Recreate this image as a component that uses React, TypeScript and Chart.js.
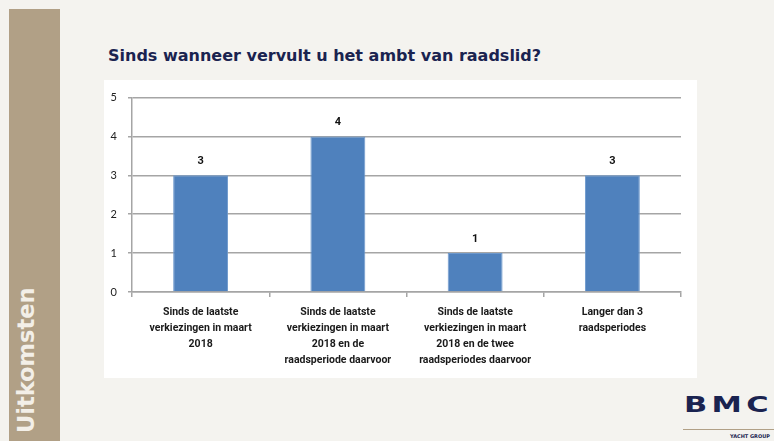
import React, { useEffect, useRef } from "react";
import { Chart, registerables } from "chart.js";

Chart.register(...registerables);

const categories: string[][] = [
  ["Sinds de laatste", "verkiezingen in maart", "2018"],
  ["Sinds de laatste", "verkiezingen in maart", "2018 en de", "raadsperiode daarvoor"],
  ["Sinds de laatste", "verkiezingen in maart", "2018 en de twee", "raadsperiodes daarvoor"],
  ["Langer dan 3", "raadsperiodes"],
];
const values: number[] = [3, 4, 1, 3];
const yTicks: number[] = [0, 1, 2, 3, 4, 5];

const titleText = "Sinds wanneer vervult u het ambt van raadslid?";
const sideText = "Uitkomsten";

const GRID = "#a5a5a5";
const TICK_FONT = "Lato, 'Liberation Sans', sans-serif";
const LABEL_FONT = "Roboto, 'Liberation Sans', sans-serif";

const valueLabels = {
  id: "valueLabels",
  afterDatasetsDraw(chart: any) {
    const ctx = chart.ctx;
    const meta = chart.getDatasetMeta(0);
    ctx.save();
    ctx.font = `bold 11px ${LABEL_FONT}`;
    ctx.fillStyle = "#111";
    ctx.textAlign = "center";
    ctx.textBaseline = "middle";
    meta.data.forEach((el: any, i: number) => {
      ctx.fillText(String(chart.data.datasets[0].data[i]), el.x, el.y - 14);
    });
    ctx.restore();
  },
};

export default function App() {
  const ref = useRef<HTMLCanvasElement>(null);
  useEffect(() => {
    if (!ref.current) return;
    const chart = new Chart(ref.current, {
      type: "bar",
      data: {
        labels: categories,
        datasets: [
          {
            data: values,
            backgroundColor: "#4f81bd",
            borderColor: "#6d98cc",
            borderWidth: 1,
            barPercentage: 0.4,
            categoryPercentage: 1,
          },
        ],
      },
      options: {
        responsive: false,
        animation: false,
        layout: { padding: { top: 16, right: 16, left: 0, bottom: 0 } },
        plugins: {
          legend: { display: false },
          tooltip: { enabled: false },
          title: { display: false },
        },
        scales: {
          x: {
            afterFit: (s: any) => {
              s.height = 86;
            },
            grid: {
              offset: true,
              drawOnChartArea: false,
              drawTicks: true,
              tickLength: 5,
              color: GRID,
              lineWidth: 1.5,
            },
            border: { color: GRID, width: 1.5 },
            ticks: {
              autoSkip: false,
              maxRotation: 0,
              minRotation: 0,
              padding: 7,
              color: "#1a1a1a",
              font: { family: LABEL_FONT, size: 10.5, weight: "bold", lineHeight: 16 / 10.5 },
            },
          },
          y: {
            min: 0,
            max: 5,
            afterFit: (s: any) => {
              s.width = 28;
            },
            afterBuildTicks: (s: any) => {
              s.ticks = yTicks.map((v) => ({ value: v }));
            },
            grid: {
              color: GRID,
              lineWidth: 1.5,
              drawTicks: true,
              tickLength: 4,
            },
            border: { color: GRID, width: 1.5 },
            ticks: {
              padding: 11,
              color: "#222",
              font: { family: TICK_FONT, size: 11 },
            },
          },
        },
      },
      plugins: [valueLabels],
    });
    return () => chart.destroy();
  }, []);

  return (
    <div
      style={{
        position: "fixed",
        left: 0,
        top: 0,
        width: 774,
        height: 441,
        background: "#f4f3ef",
        overflow: "hidden",
      }}
    >
      <div
        style={{
          position: "absolute",
          left: 9,
          top: 9,
          width: 51,
          height: 432,
          background: "#b1a086",
        }}
      />
      <div
        style={{
          position: "absolute",
          left: 12,
          top: 433,
          transform: "rotate(-90deg)",
          transformOrigin: "0 0",
          whiteSpace: "nowrap",
          color: "#f3efe8",
          fontFamily: "'DejaVu Sans', Verdana, sans-serif",
          fontWeight: "bold",
          fontSize: 22.5,
          lineHeight: "28px",
        }}
      >
        {sideText}
      </div>
      <div
        style={{
          position: "absolute",
          left: 108,
          top: 46,
          whiteSpace: "nowrap",
          color: "#1a2350",
          fontFamily: "'DejaVu Sans', Verdana, sans-serif",
          fontWeight: "bold",
          fontSize: 16,
          lineHeight: "20px",
        }}
      >
        {titleText}
      </div>
      <div
        style={{
          position: "absolute",
          left: 104,
          top: 80,
          width: 593,
          height: 298,
          background: "#ffffff",
        }}
      >
        <canvas ref={ref} width={593} height={298} style={{ display: "block" }} />
      </div>
      <div
        style={{
          position: "absolute",
          left: 684,
          top: 393,
          whiteSpace: "nowrap",
          color: "#1a2350",
          fontFamily: "'DejaVu Sans', Verdana, sans-serif",
          fontWeight: "bold",
          fontSize: 21,
          lineHeight: "24px",
          letterSpacing: 3,
          transform: "scaleX(1.45)",
          transformOrigin: "0 0",
        }}
      >
        BMC
      </div>
      <div
        style={{
          position: "absolute",
          left: 683,
          top: 429,
          width: 91,
          height: 1,
          background: "#b1a086",
        }}
      />
      <div
        style={{
          position: "absolute",
          left: 730,
          top: 433,
          whiteSpace: "nowrap",
          color: "#1a2350",
          fontFamily: "'DejaVu Sans', Verdana, sans-serif",
          fontWeight: "bold",
          fontSize: 5,
          lineHeight: "6px",
        }}
      >
        YACHT GROUP
      </div>
    </div>
  );
}
